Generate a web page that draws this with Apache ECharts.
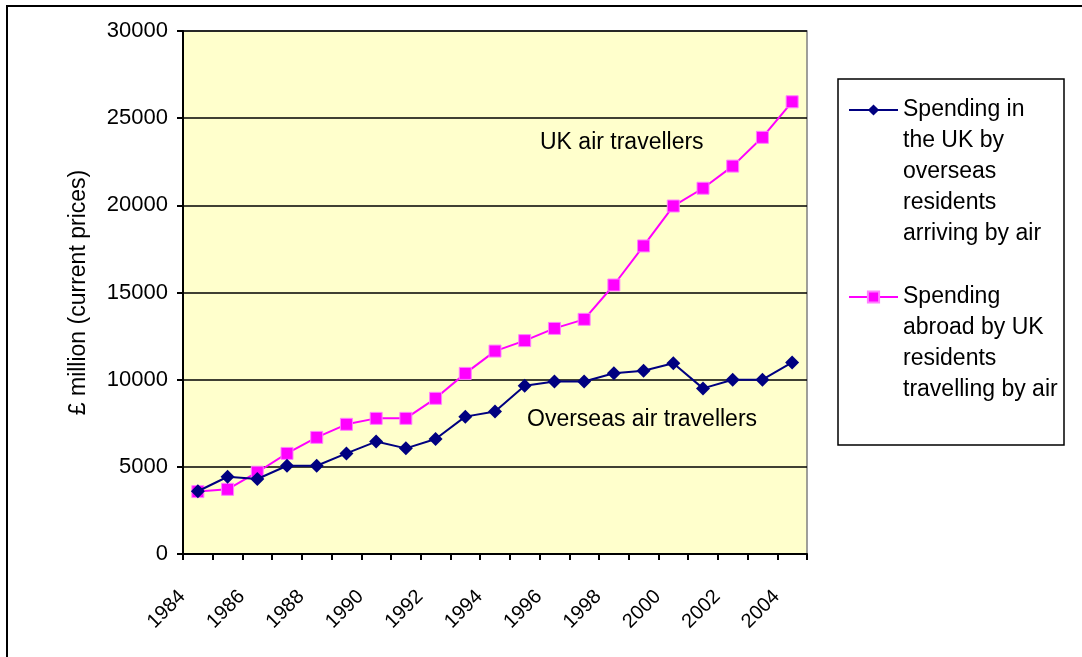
<!DOCTYPE html>
<html>
<head>
<meta charset="utf-8">
<script src="https://cdn.jsdelivr.net/npm/echarts@6/dist/echarts.min.js"></script>
<style>
	html, body { margin: 0; padding: 0; background: #fff; }
	#chart { width: 1082px; height: 657px; }
</style>
</head>
<body>
<div id="chart"></div>
<script>
// data
const years = ["1984", "1985", "1986", "1987", "1988", "1989", "1990", "1991", "1992", "1993", "1994",
	"1995", "1996", "1997", "1998", "1999", "2000", "2001", "2002", "2003", "2004"];
const overseasSpending = [3600, 4430, 4300, 5060, 5060, 5770, 6450, 6060, 6600, 7880, 8170,
	9650, 9890, 9890, 10370, 10510, 10940, 9500, 10000, 10000, 10990];
const ukSpending = [3580, 3710, 4690, 5770, 6690, 7440, 7780, 7780, 8930, 10360, 11640,
	12240, 12940, 13460, 15430, 17670, 19960, 20980, 22250, 23900, 25940];
const yTicks = [0, 5000, 10000, 15000, 20000, 25000, 30000];
const seriesNames = [
	"Spending in\nthe UK by\noverseas\nresidents\narriving by air",
	"Spending\nabroad by UK\nresidents\ntravelling by air"
];

const font = "'Liberation Sans', Arial, sans-serif";
const lineH = 31;

// blank lines on top so the first line of the name sits beside the icon
function legendFor(name, iconY) {
	const n = name.split("\n").length;
	return {
		data: [name],
		orient: "vertical",
		left: 848,
		top: iconY - (2 * n - 1) * lineH / 2,
		padding: 0,
		itemWidth: 49,
		itemHeight: 14,
		itemGap: 0,
		selectedMode: false,
		formatter: nm => "\n".repeat(n - 1) + nm,
		textStyle: {
			fontFamily: font,
			fontSize: 23,
			color: "#000",
			lineHeight: lineH
		}
	};
}

const chart = echarts.init(document.getElementById("chart"));
chart.setOption({
	animation: false,
	backgroundColor: "#fff",
	grid: {
		left: 183,
		top: 31,
		right: 275,
		bottom: 103,
		show: true,
		backgroundColor: "#FFFFCC",
		borderColor: "#808080",
		borderWidth: 1.5
	},
	legend: [legendFor(seriesNames[0], 110), legendFor(seriesNames[1], 297)],
	xAxis: {
		type: "category",
		data: years,
		boundaryGap: true,
		axisLine: { lineStyle: { color: "#000", width: 2 } },
		axisTick: { show: true, interval: 0, length: 6, lineStyle: { color: "#000", width: 2 } },
		axisLabel: {
			interval: 1,
			rotate: 45,
			margin: 24,
			formatter: v => "{y|" + v + "}",
			rich: {
				y: { fontFamily: font, fontSize: 20, color: "#000", padding: [0, 22, 0, 0] }
			}
		},
		splitLine: { show: false }
	},
	yAxis: {
		type: "value",
		min: yTicks[0],
		max: yTicks[yTicks.length - 1],
		interval: yTicks[1] - yTicks[0],
		name: "£ million (current prices)",
		nameLocation: "middle",
		nameGap: 93,
		nameTextStyle: { fontFamily: font, fontSize: 23, color: "#000" },
		axisLine: { show: true, lineStyle: { color: "#000", width: 2 } },
		axisTick: { show: true, length: 6, lineStyle: { color: "#000", width: 2 } },
		axisLabel: {
			margin: 15,
			formatter: v => String(v),
			fontFamily: font,
			fontSize: 22,
			color: "#000"
		},
		splitLine: { lineStyle: { color: "#000", width: 1.5 } }
	},
	series: [
		{
			name: seriesNames[0],
			type: "line",
			data: overseasSpending,
			symbol: "diamond",
			symbolSize: 14,
			z: 3,
			lineStyle: { color: "#000080", width: 2 },
			itemStyle: { color: "#000080" }
		},
		{
			name: seriesNames[1],
			type: "line",
			data: ukSpending,
			symbol: "rect",
			symbolSize: 12,
			z: 2,
			lineStyle: { color: "#FF00FF", width: 2 },
			itemStyle: { color: "#FF00FF", borderColor: "#FF80FF", borderWidth: 1 }
		}
	],
	graphic: [
		{
			type: "rect",
			shape: { x: 7, y: 6, width: 1200, height: 800 },
			style: { fill: null, stroke: "#000", lineWidth: 2 },
			silent: true,
			z: -10
		},
		{
			type: "rect",
			shape: { x: 838, y: 79, width: 226, height: 366 },
			style: { fill: "#fff", stroke: "#000", lineWidth: 1.5 },
			silent: true,
			z: -5
		},
		{
			type: "text",
			left: 540,
			top: 131,
			style: { text: "UK air travellers", font: "23px " + font, fill: "#000" },
			z: 5
		},
		{
			type: "text",
			left: 527,
			top: 408,
			style: { text: "Overseas air travellers", font: "23px " + font, fill: "#000" },
			z: 5
		}
	]
});
</script>
</body>
</html>
